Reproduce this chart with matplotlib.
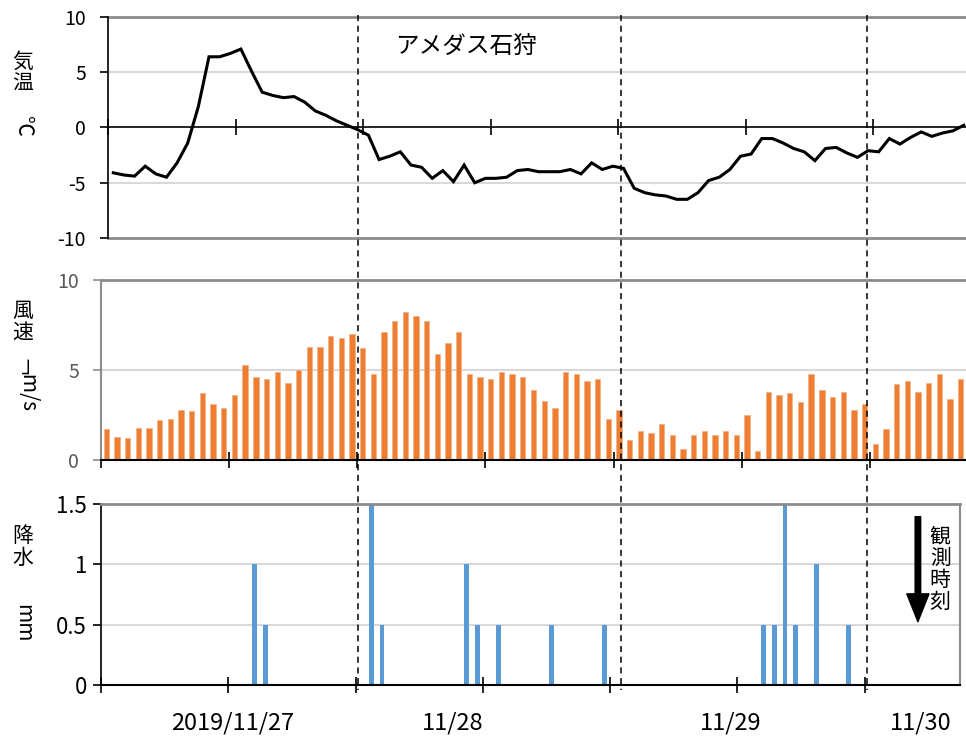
import numpy as np
import matplotlib.pyplot as plt
from matplotlib.transforms import blended_transform_factory

plt.rcParams['font.family'] = ['Noto Sans CJK JP', 'DejaVu Sans']
plt.rcParams['axes.unicode_minus'] = False

# --- データ (1時間ごと, 81時間分) ---
temp = [-4.1, -4.3, -4.4, -3.5, -4.2, -4.5, -3.2, -1.4, 1.9, 6.4,
        6.4, 6.7, 7.1, 5.1, 3.2, 2.9, 2.7, 2.8, 2.3, 1.5,
        1.1, 0.6, 0.2, -0.2, -0.7, -2.9, -2.6, -2.2, -3.4, -3.6,
        -4.6, -3.9, -4.9, -3.4, -5.0, -4.6, -4.6, -4.5, -3.9, -3.8,
        -4.0, -4.0, -4.0, -3.8, -4.2, -3.2, -3.8, -3.5, -3.7, -5.5,
        -5.9, -6.1, -6.2, -6.5, -6.5, -5.9, -4.8, -4.5, -3.8, -2.6,
        -2.4, -1.0, -1.0, -1.4, -1.9, -2.2, -3.0, -1.9, -1.8, -2.3,
        -2.7, -2.1, -2.2, -1.0, -1.5, -0.9, -0.4, -0.8, -0.5, -0.3,
        0.2]

wind = [1.7, 1.3, 1.2, 1.8, 1.8, 2.2, 2.3, 2.8, 2.7, 3.7,
        3.1, 2.9, 3.6, 5.3, 4.6, 4.5, 4.9, 4.3, 5.0, 6.3,
        6.3, 6.9, 6.8, 7.0, 6.2, 4.8, 7.1, 7.7, 8.2, 8.0,
        7.7, 5.9, 6.5, 7.1, 4.8, 4.6, 4.5, 4.9, 4.8, 4.6,
        3.9, 3.3, 2.9, 4.9, 4.8, 4.4, 4.5, 2.3, 2.8, 1.1,
        1.6, 1.5, 2.0, 1.4, 0.6, 1.4, 1.6, 1.4, 1.6, 1.4,
        2.5, 0.5, 3.8, 3.6, 3.7, 3.2, 4.8, 3.9, 3.5, 3.8,
        2.8, 3.1, 0.9, 1.7, 4.2, 4.4, 3.8, 4.3, 4.8, 3.4,
        4.5]

rain_hour = [15, 16, 26, 27, 35, 36, 38, 43, 48, 63, 64, 65, 66, 68, 71]
rain_mm = [1.0, 0.5, 1.5, 0.5, 1.0, 0.5, 0.5, 0.5, 0.5, 0.5, 0.5, 1.5, 0.5, 1.0, 0.5]

day_labels = ['2019/11/27', '11/28', '11/29', '11/30']
day_label_pos = [12.4, 33.2, 59.4, 77.3]   # 時間(横軸)上の位置
obs_times = [24.1, 48.7, 71.7]             # 観測時刻の破線

n = len(temp)
x = np.arange(n) + 0.5
rain_x = np.array(rain_hour) - 0.5

W, H = 966, 741
fig = plt.figure(figsize=(W / 100, H / 100), dpi=100)


def box(left, top, right, bottom):
    return [left / W, 1 - bottom / H, (right - left) / W, (bottom - top) / H]


grid_c = '#d9d9d9'
frame_c = '#8c8c8c'

# --- 気温 ---
ax1 = fig.add_axes(box(108, 17, 966, 238))
ax1.plot(x, temp, color='black', lw=2.2, solid_joinstyle='miter')
ax1.set_xlim(0, 858 / 10.63)
ax1.set_ylim(-10, 10)
for v in (5, -5):
    ax1.axhline(v, color=grid_c, lw=1.5, zorder=0)
for v in (10, -10):
    ax1.axhline(v, color=frame_c, lw=2, zorder=0, clip_on=False)
ax1.spines[['top', 'right']].set_visible(False)
ax1.spines['bottom'].set_position(('data', 0))
ax1.spines['bottom'].set_linewidth(1.2)
ax1.spines['left'].set_linewidth(1.2)
ax1.set_xticks(np.arange(0, 73, 12))
ax1.tick_params(axis='x', direction='inout', length=11, width=1.2, labelbottom=False)
ax1.set_yticks([-10, -5, 0, 5, 10])
ax1.tick_params(axis='y', direction='out', length=6, width=1.2, labelsize=14, pad=10)

# --- 風速 ---
ax2 = fig.add_axes(box(101, 280, 966, 460))
ax2.bar(x, wind, width=0.5, color='#ED7D31', edgecolor='#f4b183', lw=0.5, zorder=2)
ax2.set_xlim(0, n)
ax2.set_ylim(0, 10)
ax2.axhline(5, color=grid_c, lw=1.5, zorder=0)
ax2.axhline(10, color=frame_c, lw=2, zorder=0, clip_on=False)
ax2.spines[['top', 'right']].set_visible(False)
ax2.spines['left'].set_color(frame_c)
ax2.spines['left'].set_linewidth(1.5)
ax2.spines['bottom'].set_linewidth(1.5)
ax2.set_xticks(np.arange(0, 73, 12))
ax2.tick_params(axis='x', direction='inout', length=11, width=1.2, labelbottom=False)
ax2.set_yticks([0, 5, 10])
ax2.tick_params(axis='y', direction='out', length=6, width=1.2, color=frame_c,
                labelcolor='#595959', labelsize=14, pad=10)

# --- 降水 ---
ax3 = fig.add_axes(box(101, 504, 960, 685))
ax3.bar(rain_x, rain_mm, width=0.45, color='#5B9BD5', zorder=2)
ax3.set_xlim(0, n)
ax3.set_ylim(0, 1.5)
for v in (0.5, 1.0):
    ax3.axhline(v, color=grid_c, lw=1.5, zorder=0)
ax3.spines['top'].set_color(frame_c)
ax3.spines['right'].set_color(frame_c)
ax3.spines['top'].set_linewidth(2)
ax3.spines['right'].set_linewidth(1.5)
ax3.spines['left'].set_linewidth(1.2)
ax3.spines['bottom'].set_linewidth(1.5)
ax3.set_xticks(np.arange(0, 73, 12))
ax3.tick_params(axis='x', direction='inout', length=11, width=1.2, labelbottom=False)
ax3.set_yticks([0, 0.5, 1, 1.5])
ax3.set_yticklabels(['0', '0.5', '1', '1.5'])
ax3.tick_params(axis='y', direction='out', length=6, width=1.2, labelsize=16, pad=4)

for lab, pos in zip(day_labels, day_label_pos):
    ax3.text(pos, -0.21, lab, transform=blended_transform_factory(ax3.transData, ax3.transAxes),
             ha='center', va='center', fontsize=17)

ax3.annotate('', xy=(0.951, 0.35), xytext=(0.951, 0.93), xycoords='axes fraction',
             arrowprops=dict(facecolor='black', edgecolor='black', width=4, headwidth=16, headlength=20))
ax3.text(0.977, 0.64, '観\n測\n時\n刻', transform=ax3.transAxes, ha='center', va='center',
         fontsize=15, linespacing=0.98)

# 観測時刻の破線 (図全体を縦断)
tr = blended_transform_factory(ax2.transData, fig.transFigure)
for t in obs_times:
    fig.add_artist(plt.Line2D([t, t], [1 - 15 / H, 1 - 690 / H], transform=tr,
                              color='black', lw=1.1, ls=(0, (4, 3))))

# 軸ラベル・タイトル
fig.text(466 / W, 1 - 46 / H, 'アメダス石狩', ha='center', va='center', fontsize=17)
fig.text(23 / W, 1 - 73 / H, '気\n温', ha='center', va='center', fontsize=15, linespacing=1.0)
fig.text(23 / W, 1 - 126 / H, '℃', ha='center', va='center', fontsize=15, rotation=-90)
fig.text(23 / W, 1 - 322 / H, '風\n速', ha='center', va='center', fontsize=15, linespacing=1.0)
fig.text(23 / W, 1 - 387 / H, '﹁m/s', ha='center', va='center', fontsize=15, rotation=-90)
fig.text(23 / W, 1 - 547 / H, '降\n水', ha='center', va='center', fontsize=15, linespacing=1.0)
fig.text(23 / W, 1 - 623 / H, 'mm', ha='center', va='center', fontsize=15, rotation=-90)

fig.savefig('out.png', dpi=100)
